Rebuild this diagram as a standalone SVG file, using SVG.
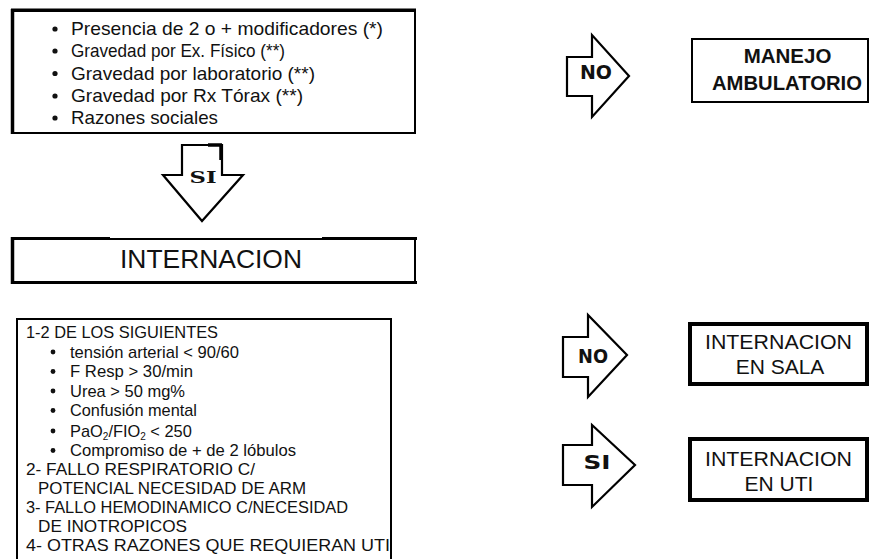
<svg xmlns="http://www.w3.org/2000/svg" width="871" height="559" viewBox="0 0 871 559">
<style>
.bg{fill:#fff}
.box{fill:#fff;stroke:#000;stroke-width:2}
.thick{fill:#fff;stroke:#000;stroke-width:4}
.arrow{fill:#fff;stroke:#000;stroke-width:2.2;stroke-linejoin:miter}
.t{font-family:"Liberation Sans",Arial,sans-serif;fill:#111}
.top{font-size:19px}
.low{font-size:16.4px}
.big{font-size:26px;text-anchor:middle}
.mid{font-size:21px;text-anchor:middle}
.bold{font-weight:bold}
.lbl{font-family:"DejaVu Sans","Liberation Sans",sans-serif;font-weight:bold;font-size:17px;text-anchor:middle;fill:#111}
.lblserif{font-family:"DejaVu Serif","Liberation Serif",serif;font-weight:bold;font-size:17px;text-anchor:middle;fill:#111}
.dot{fill:#111}
</style>
<rect class="bg" x="0" y="0" width="871" height="559"/>

<g id="criterios">
  <rect class="box" x="13" y="11" width="402" height="122"/>
  <line x1="12.5" y1="9" x2="12.5" y2="134" stroke="#000" stroke-width="3.5"/>
  <line x1="11" y1="10" x2="416" y2="10" stroke="#000" stroke-width="3"/>
  <circle class="dot" cx="55" cy="29" r="2.6"/>
  <circle class="dot" cx="55" cy="51" r="2.6"/>
  <circle class="dot" cx="55" cy="73.5" r="2.6"/>
  <circle class="dot" cx="55" cy="96" r="2.6"/>
  <circle class="dot" cx="55" cy="118" r="2.6"/>
  <text class="t top" x="71" y="35" textLength="312" lengthAdjust="spacingAndGlyphs">Presencia de 2 o + modificadores (*)</text>
  <text class="t top" x="71" y="57" textLength="214" lengthAdjust="spacingAndGlyphs">Gravedad por Ex. Físico (**)</text>
  <text class="t top" x="71" y="79.5" textLength="244" lengthAdjust="spacingAndGlyphs">Gravedad por laboratorio (**)</text>
  <text class="t top" x="71" y="102" textLength="232" lengthAdjust="spacingAndGlyphs">Gravedad por Rx Tórax (**)</text>
  <text class="t top" x="71" y="124" textLength="147" lengthAdjust="spacingAndGlyphs">Razones sociales</text>
</g>

<g id="manejo-ambulatorio">
  <rect class="box" x="692" y="39" width="176" height="63"/>
  <text class="t mid bold" x="787.5" y="63" style="font-size:20.5px">MANEJO</text>
  <text class="t mid bold" x="787" y="90" style="font-size:20.5px" textLength="150" lengthAdjust="spacingAndGlyphs">AMBULATORIO</text>
</g>

<g id="internacion">
  <rect class="box" x="13" y="239" width="402" height="43" stroke-width="2.5"/>
  <line x1="12.5" y1="237" x2="12.5" y2="284" stroke="#000" stroke-width="3.5"/>
  <line x1="11" y1="238.5" x2="110" y2="238.5" stroke="#000" stroke-width="3"/>
  <line x1="322" y1="238.5" x2="417" y2="238.5" stroke="#000" stroke-width="3"/>
  <line x1="11" y1="282.5" x2="417" y2="282.5" stroke="#000" stroke-width="3"/>
  <text class="t big" x="211" y="268" textLength="182" lengthAdjust="spacingAndGlyphs">INTERNACION</text>
</g>

<g id="criterios-gravedad">
  <rect class="box" x="17" y="319" width="374" height="260"/>
  <text class="t low" x="26" y="338" textLength="192" lengthAdjust="spacingAndGlyphs">1-2 DE LOS SIGUIENTES</text>
  <circle class="dot" cx="53" cy="352" r="2.4"/>
  <circle class="dot" cx="53" cy="371.5" r="2.4"/>
  <circle class="dot" cx="53" cy="391" r="2.4"/>
  <circle class="dot" cx="53" cy="410.5" r="2.4"/>
  <circle class="dot" cx="53" cy="431" r="2.4"/>
  <circle class="dot" cx="53" cy="450.5" r="2.4"/>
  <text class="t low" x="70" y="357.5" textLength="169" lengthAdjust="spacingAndGlyphs">tensión arterial &lt; 90/60</text>
  <text class="t low" x="70" y="377" textLength="123" lengthAdjust="spacingAndGlyphs">F Resp &gt; 30/min</text>
  <text class="t low" x="70" y="396.5" textLength="115" lengthAdjust="spacingAndGlyphs">Urea &gt; 50 mg%</text>
  <text class="t low" x="70" y="416" textLength="127" lengthAdjust="spacingAndGlyphs">Confusión mental</text>
  <text class="t low" x="70" y="436.5">PaO<tspan font-size="10" dy="3">2</tspan><tspan dy="-3">/FIO</tspan><tspan font-size="10" dy="3">2</tspan><tspan dy="-3"> &lt; 250</tspan></text>
  <text class="t low" x="70" y="456" textLength="226" lengthAdjust="spacingAndGlyphs">Compromiso de + de 2 lóbulos</text>
  <text class="t low" x="26" y="475" textLength="229" lengthAdjust="spacingAndGlyphs">2- FALLO RESPIRATORIO C/</text>
  <text class="t low" x="38" y="494" textLength="268" lengthAdjust="spacingAndGlyphs">POTENCIAL NECESIDAD DE ARM</text>
  <text class="t low" x="26" y="513" textLength="322" lengthAdjust="spacingAndGlyphs">3- FALLO HEMODINAMICO C/NECESIDAD</text>
  <text class="t low" x="38" y="532" textLength="149" lengthAdjust="spacingAndGlyphs">DE INOTROPICOS</text>
  <text class="t low" x="26" y="551" textLength="364" lengthAdjust="spacingAndGlyphs">4- OTRAS RAZONES QUE REQUIERAN UTI</text>
</g>

<g id="internacion-sala">
  <rect class="thick" x="690" y="324" width="177" height="60"/>
  <text class="t mid" x="778.5" y="349" textLength="147" lengthAdjust="spacingAndGlyphs">INTERNACION</text>
  <text class="t mid" x="780" y="374">EN SALA</text>
</g>

<g id="internacion-uti">
  <rect class="thick" x="690" y="439" width="177" height="61"/>
  <text class="t mid" x="778.5" y="466" textLength="147" lengthAdjust="spacingAndGlyphs">INTERNACION</text>
  <text class="t mid" x="779" y="491">EN UTI</text>
</g>

<g id="connectors">
  <g id="arrow-si-down">
    <polygon class="arrow" points="182,145 222,145 222,175 243,175 202,221 163,175 182,175"/>
    <line x1="208" y1="145" x2="222" y2="145" stroke="#000" stroke-width="3.5"/>
    <line x1="221" y1="145" x2="221" y2="160" stroke="#000" stroke-width="3.5"/>
    <text class="lblserif" x="203" y="183" textLength="27" lengthAdjust="spacingAndGlyphs">SI</text>
  </g>
  <g id="arrow-no-top">
    <polygon class="arrow" points="567,57 592,57 592,35 629,76 592,117 592,96 567,96"/>
    <text class="lbl" x="596" y="79" style="font-size:19px" textLength="32" lengthAdjust="spacingAndGlyphs">NO</text>
  </g>
  <g id="arrow-no-bottom">
    <polygon class="arrow" points="563,337 588,337 588,315 627,355 588,397 588,377 563,377"/>
    <text class="lbl" x="593" y="363" style="font-size:19px" textLength="30" lengthAdjust="spacingAndGlyphs">NO</text>
  </g>
  <g id="arrow-si-bottom">
    <polygon class="arrow" points="563,445 592,445 592,425 635,465 592,507 592,485 563,485"/>
    <text class="lbl" x="597" y="469" style="font-size:19px" textLength="27" lengthAdjust="spacingAndGlyphs">SI</text>
  </g>
</g>
</svg>
